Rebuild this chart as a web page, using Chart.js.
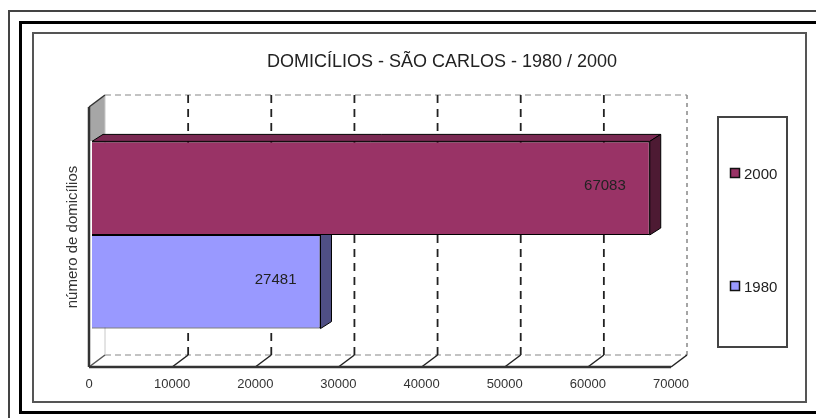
<!DOCTYPE html>
<html>
<head>
<meta charset="utf-8">
<script src="https://cdn.jsdelivr.net/npm/chart.js@4.4.1/dist/chart.umd.min.js"></script>
<style>
  html, body { margin: 0; padding: 0; background: #fff; width: 816px; height: 418px; overflow: hidden; }
  .frame { position: absolute; box-sizing: border-box; }
  #f1 { left: 8px; top: 10px; width: 900px; height: 500px; border: 2px solid #444; }
  #f2 { left: 19px; top: 21px; width: 900px; height: 393px; border: 3px solid #000; }
  #f3 { left: 32px; top: 32px; width: 775px; height: 371px; border: 2px solid #555; }
  canvas { position: absolute; left: 0; top: 0; }
</style>
</head>
<body>
<div class="frame" id="f1"></div>
<div class="frame" id="f2"></div>
<div class="frame" id="f3"></div>
<canvas id="chart" width="816" height="418"></canvas>
<script>
const chartTitle = 'DOMICÍLIOS - SÃO CARLOS - 1980 / 2000';
const axisTitle = 'número de domicílios';
const categories = ['São Carlos'];
const years = ['2000', '1980'];
const households = [67083, 27481];
const frontColors = ['#993366', '#9999ff'];
const topColors = ['#7a2952', '#7b7bcf'];
const sideColors = ['#4d1a33', '#4f4f85'];
const xMax = 70000;
const xStep = 10000;

Chart.defaults.font.family = '"Liberation Sans", Arial, sans-serif';

// depth of the back walls and of the bars
const wall = { dx: 16, dy: -12 };
const bar3d = { dx: 11, dy: -7 };

function poly(ctx, pts, fill) {
  ctx.beginPath();
  ctx.moveTo(pts[0][0], pts[0][1]);
  for (let i = 1; i < pts.length; i++) ctx.lineTo(pts[i][0], pts[i][1]);
  ctx.closePath();
  ctx.fillStyle = fill;
  ctx.fill();
  ctx.strokeStyle = '#000';
  ctx.lineWidth = 1;
  ctx.stroke();
}

function line(ctx, x0, y0, x1, y1, color, width, dash) {
  ctx.beginPath();
  ctx.setLineDash(dash || []);
  ctx.strokeStyle = color;
  ctx.lineWidth = width;
  ctx.moveTo(x0, y0);
  ctx.lineTo(x1, y1);
  ctx.stroke();
  ctx.setLineDash([]);
}

const walls3d = {
  id: 'walls3d',
  beforeDatasetsDraw(chart) {
    const ctx = chart.ctx;
    const a = chart.chartArea;
    const xs = chart.scales.x;
    const dx = wall.dx, dy = wall.dy;

    // top edge of the highest bar, left wall is grey only above it
    let barTop = a.bottom;
    chart.getSortedVisibleDatasetMetas().forEach(m => m.data.forEach(b => {
      barTop = Math.min(barTop, b.y - b.height / 2 + bar3d.dy / 3);
    }));

    ctx.save();
    ctx.beginPath();
    ctx.rect(a.left - 2, a.top + dy - 2, dx + 4, barTop - a.top - dy + 2);
    ctx.clip();
    ctx.beginPath();
    ctx.moveTo(a.left, a.top);
    ctx.lineTo(a.left + dx, a.top + dy);
    ctx.lineTo(a.left + dx, a.bottom + dy);
    ctx.lineTo(a.left, a.bottom);
    ctx.closePath();
    ctx.fillStyle = '#a6a6a6';
    ctx.fill();
    ctx.restore();

    ctx.save();
    // back wall outline
    line(ctx, a.left + dx, a.top + dy, a.right + dx, a.top + dy, '#b0b0b0', 1.5, [6, 4]);
    line(ctx, a.left + dx, a.bottom + dy, a.right + dx, a.bottom + dy, '#b0b0b0', 1.5, [6, 4]);
    line(ctx, a.right + dx, a.top + dy, a.right + dx, a.bottom + dy, '#888', 1.5, [4, 4]);
    line(ctx, a.left + dx, a.top + dy, a.left + dx, a.bottom + dy, '#c8c8c8', 1);

    // vertical gridlines on the back wall + floor ticks
    xs.ticks.forEach(t => {
      const px = xs.getPixelForValue(t.value);
      if (t.value > 0 && t.value < xMax) {
        line(ctx, px + dx, a.top + dy, px + dx, a.bottom + dy, '#222', 1.8, [8, 6]);
      }
      if (t.value > 0) {
        line(ctx, px, a.bottom, px + dx, a.bottom + dy, '#222', 1.5);
      }
    });

    // front axes
    line(ctx, a.left, a.top, a.left + dx, a.top + dy, '#333', 1.5);
    line(ctx, a.left, a.bottom, a.left + dx, a.bottom + dy, '#555', 1.5);
    line(ctx, a.left, a.top, a.left, a.bottom, '#333', 2.5);
    line(ctx, a.left, a.bottom, a.right, a.bottom, '#333', 2.5);
    ctx.restore();

    // bars sit in the middle of the depth
    ctx.save();
    ctx.translate(3, -2);
  },
  afterDatasetDraw(chart, args) {
    const ctx = chart.ctx;
    const i = args.index;
    args.meta.data.forEach(b => {
      const t = b.y - b.height / 2, bt = b.y + b.height / 2;
      const x0 = Math.min(b.base, b.x), x1 = Math.max(b.base, b.x);
      const dx = bar3d.dx, dy = bar3d.dy;
      poly(ctx, [[x0, t], [x1, t], [x1 + dx, t + dy], [x0 + dx, t + dy]], topColors[i]);
      poly(ctx, [[x1, t], [x1 + dx, t + dy], [x1 + dx, bt + dy], [x1, bt]], sideColors[i]);
    });
  },
  afterDatasetsDraw(chart) {
    const ctx = chart.ctx;
    ctx.font = '15px "Liberation Sans", Arial, sans-serif';
    ctx.fillStyle = '#222';
    ctx.textAlign = 'right';
    ctx.textBaseline = 'alphabetic';
    chart.data.datasets.forEach((ds, i) => {
      chart.getDatasetMeta(i).data.forEach((b, j) => {
        ctx.fillText(String(ds.data[j]), b.x - 24, b.y + bar3d.dy / 2 + 0.36 * 15);
      });
    });
    ctx.restore();
  },
  afterDraw(chart) {
    const ctx = chart.ctx;
    ctx.save();
    // title
    ctx.font = '18px "Liberation Sans", Arial, sans-serif';
    ctx.fillStyle = '#222';
    ctx.textAlign = 'center';
    ctx.textBaseline = 'alphabetic';
    ctx.fillText(chartTitle, 442, 67);

    // legend box
    const box = { x: 718, y: 117, w: 69, h: 230 };
    ctx.strokeStyle = '#444';
    ctx.lineWidth = 2;
    ctx.strokeRect(box.x, box.y, box.w, box.h);
    const rows = [56, 169];
    ctx.font = '15px "Liberation Sans", Arial, sans-serif';
    ctx.textAlign = 'left';
    chart.data.datasets.forEach((ds, i) => {
      const cy = box.y + rows[i];
      ctx.fillStyle = ds.backgroundColor;
      ctx.fillRect(box.x + 12.5, cy - 4.5, 9, 9);
      ctx.strokeStyle = '#111';
      ctx.lineWidth = 1.5;
      ctx.strokeRect(box.x + 12.5, cy - 4.5, 9, 9);
      ctx.fillStyle = '#222';
      ctx.fillText(ds.label, box.x + 26, cy + 5.5);
    });
    ctx.restore();
  }
};

new Chart(document.getElementById('chart'), {
  type: 'bar',
  data: {
    labels: categories,
    datasets: years.map((y, i) => ({
      label: y,
      data: [households[i]],
      backgroundColor: frontColors[i],
      borderColor: '#000',
      borderWidth: 1,
      categoryPercentage: 0.72,
      barPercentage: 1
    }))
  },
  options: {
    indexAxis: 'y',
    responsive: false,
    animation: false,
    layout: { padding: { left: 0, top: 107, right: 145, bottom: 0 } },
    plugins: {
      legend: { display: false },
      title: { display: false },
      tooltip: { enabled: false }
    },
    scales: {
      x: {
        min: 0,
        max: xMax,
        grid: { display: false, drawTicks: false },
        border: { display: false },
        ticks: {
          stepSize: xStep,
          padding: 10,
          color: '#333',
          font: { size: 13 },
          maxRotation: 0,
          callback: v => String(v)
        },
        afterFit: s => { s.height = 51; }
      },
      y: {
        grid: { display: false, drawTicks: false },
        border: { display: false },
        ticks: { display: false },
        title: {
          display: true,
          text: axisTitle,
          color: '#333',
          font: { size: 15 },
          padding: { top: 64, bottom: 0 }
        },
        afterFit: s => { s.width = 89; }
      }
    }
  },
  plugins: [walls3d]
});
</script>
</body>
</html>
